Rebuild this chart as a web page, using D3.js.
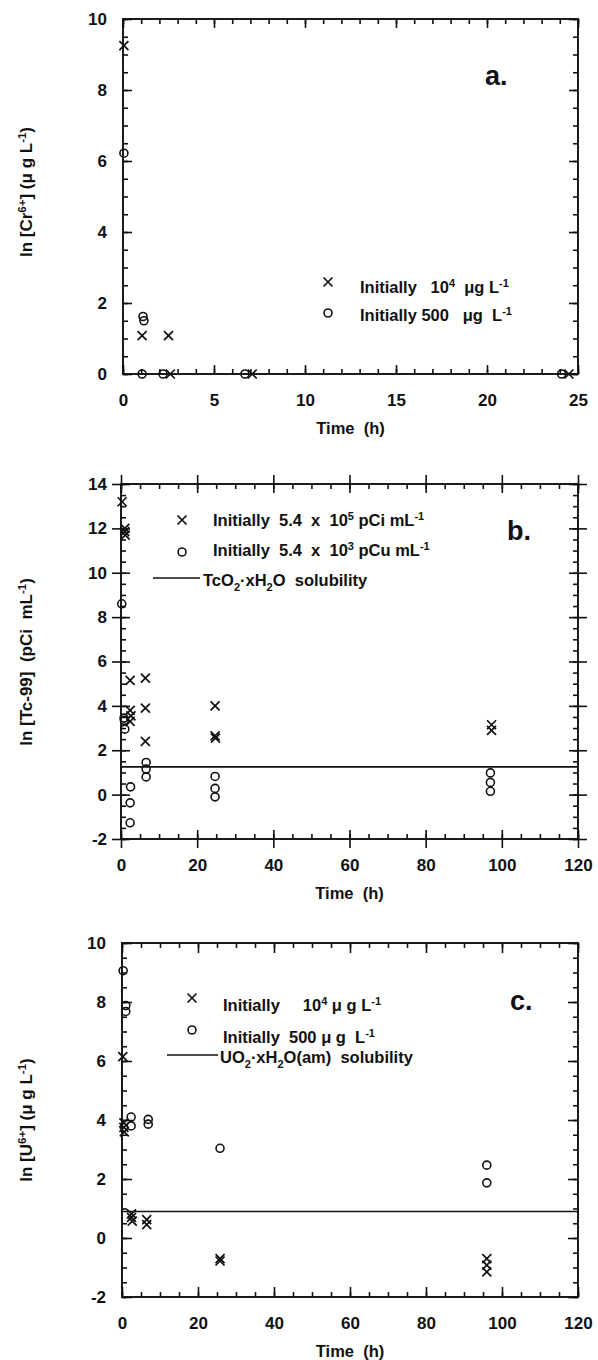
<!DOCTYPE html>
<html>
<head>
<meta charset="utf-8">
<script src="https://cdn.jsdelivr.net/npm/d3@7"></script>
<style>
body { margin: 0; background: #fff; }
text { font-family: "Liberation Sans", Arial, sans-serif; font-weight: bold; fill: #111; white-space: pre; }
</style>
</head>
<body>
<svg id="svg" width="598" height="1360"></svg>
<script>
// ---- panel a : Cr(VI) ----
var crTicksX = [0, 5, 10, 15, 20, 25];
var crTicksY = [0, 2, 4, 6, 8, 10];
var crTimeHigh = [0.05, 1.05, 2.5, 2.6, 7.1, 24.5];
var crLnHigh = [9.25, 1.08, 1.08, 0, 0, 0];
var crTimeLow = [0.05, 1.1, 1.15, 1.05, 2.2, 6.7, 24.1];
var crLnLow = [6.22, 1.62, 1.5, 0, 0, 0, 0];
var crLegend = ["Initially   10^{4}  μg L^{-1}", "Initially 500   μg  L^{-1}"];
var crYTitle = "ln [Cr^{6+}] (μ g L^{-1})";

// ---- panel b : Tc-99 ----
var tcTicksX = [0, 20, 40, 60, 80, 100, 120];
var tcTicksY = [-2, 0, 2, 4, 6, 8, 10, 12, 14];
var tcTimeHigh = [0.3, 1.0, 1.0, 1.1, 2.4, 2.4, 2.6, 2.4, 6.4, 6.4, 6.4, 24.7, 24.7, 24.8, 97.3, 97.3];
var tcLnHigh = [13.2, 12.0, 11.85, 11.7, 5.15, 3.8, 3.55, 3.3, 5.25, 3.9, 2.4, 4.0, 2.65, 2.55, 3.15, 2.9];
var tcTimeLow = [0.2, 0.8, 0.9, 1.0, 2.5, 2.4, 2.4, 6.6, 6.6, 6.6, 24.7, 24.7, 24.7, 97, 97, 97];
var tcLnLow = [8.6, 3.45, 3.35, 2.95, 0.35, -0.37, -1.27, 1.45, 1.15, 0.8, 0.82, 0.28, -0.1, 0.98, 0.55, 0.15];
var tcSolubility = 1.25;
var tcLegend = ["Initially  5.4  x  10^{5} pCi mL^{-1}", "Initially  5.4  x  10^{3} pCu mL^{-1}", "TcO_{2}·xH_{2}O  solubility"];
var tcYTitle = "ln [Tc-99]  (pCi  mL^{-1})";

// ---- panel c : U(VI) ----
var uTicksX = [0, 20, 40, 60, 80, 100, 120];
var uTicksY = [-2, 0, 2, 4, 6, 8, 10];
var uTimeHigh = [0.2, 0.5, 0.5, 0.6, 2.5, 2.5, 2.7, 6.5, 6.5, 25.8, 25.8, 96, 96, 96];
var uLnHigh = [6.15, 3.9, 3.75, 3.6, 0.82, 0.7, 0.57, 0.62, 0.45, -0.7, -0.78, -0.7, -0.92, -1.15];
var uTimeLow = [0.3, 1.0, 1.0, 2.4, 2.4, 6.9, 6.9, 25.8, 96, 96];
var uLnLow = [9.06, 7.88, 7.68, 4.1, 3.8, 4.02, 3.86, 3.04, 2.47, 1.87];
var uSolubility = 0.9;
var uLegend = ["Initially     10^{4} μ g L^{-1}", "Initially  500 μ g  L^{-1}", "UO_{2}·xH_{2}O(am)  solubility"];
var uYTitle = "ln [U^{6+}] (μ g L^{-1})";

var xTitle = "Time  (h)";

var svg = d3.select("#svg");
var crossPath = "M-4.5,-4.5L4.5,4.5M-4.5,4.5L4.5,-4.5";

// text with ^{sup} and _{sub}
function richText(sel, str, small) {
	var parts = str.split(/(\^\{[^}]*\}|_\{[^}]*\})/);
	var shift = 0;
	parts.forEach(function(p) {
		if (p === "") return;
		var t = sel.append("tspan");
		var d = 0;
		if (p.indexOf("^{") === 0) { d = -6; p = p.slice(2, -1); t.style("font-size", small + "px"); }
		else if (p.indexOf("_{") === 0) { d = 5; p = p.slice(2, -1); t.style("font-size", small + "px"); }
		t.attr("dy", d - shift).text(p);
		shift = d;
	});
}

function fmt(d) { return String(d); }

function panel(o) {
	var x = d3.scaleLinear().domain(o.xDom).range([o.left, o.right]);
	var y = d3.scaleLinear().domain(o.yDom).range([o.bottom, o.top]);
	var g = svg.append("g");
	var minX = d3.range(o.xDom[0], o.xDom[1] + 1e-9, o.xMinor);
	var minY = d3.range(o.yDom[0], o.yDom[1] + 1e-9, o.yMinor);

	// axes: labelled + minor + opposite sides
	var axes = [];
	axes.push(g.append("g").attr("transform", "translate(0," + o.bottom + ")")
		.call(d3.axisBottom(x).tickValues(o.ticksX).tickSize(-o.major).tickSizeOuter(0).tickPadding(o.padX).tickFormat(fmt)));
	axes.push(g.append("g").attr("transform", "translate(0," + o.bottom + ")")
		.call(d3.axisBottom(x).tickValues(minX).tickSize(-o.minor).tickSizeOuter(0).tickFormat("")));
	axes.push(g.append("g").attr("transform", "translate(0," + o.top + ")")
		.call(d3.axisTop(x).tickValues(o.ticksX).tickSize(-o.major).tickSizeOuter(0).tickFormat("")));
	axes.push(g.append("g").attr("transform", "translate(0," + o.top + ")")
		.call(d3.axisTop(x).tickValues(minX).tickSize(-o.minor).tickSizeOuter(0).tickFormat("")));
	axes.push(g.append("g").attr("transform", "translate(" + o.left + ",0)")
		.call(d3.axisLeft(y).tickValues(o.ticksY).tickSize(-o.major).tickSizeOuter(0).tickPadding(o.padY).tickFormat(fmt)));
	axes.push(g.append("g").attr("transform", "translate(" + o.left + ",0)")
		.call(d3.axisLeft(y).tickValues(minY).tickSize(-o.minor).tickSizeOuter(0).tickFormat("")));
	axes.push(g.append("g").attr("transform", "translate(" + o.right + ",0)")
		.call(d3.axisRight(y).tickValues(o.ticksY).tickSize(-o.major).tickSizeOuter(0).tickFormat("")));
	axes.push(g.append("g").attr("transform", "translate(" + o.right + ",0)")
		.call(d3.axisRight(y).tickValues(minY).tickSize(-o.minor).tickSizeOuter(0).tickFormat("")));
	if (o.cross) {
		// major ticks cross the frame in panel b
		axes.push(g.append("g").attr("transform", "translate(0," + o.bottom + ")")
			.call(d3.axisBottom(x).tickValues(o.ticksX).tickSize(o.major).tickSizeOuter(0).tickFormat("")));
		axes.push(g.append("g").attr("transform", "translate(0," + o.top + ")")
			.call(d3.axisTop(x).tickValues(o.ticksX).tickSize(o.major).tickSizeOuter(0).tickFormat("")));
		axes.push(g.append("g").attr("transform", "translate(" + o.left + ",0)")
			.call(d3.axisLeft(y).tickValues(o.ticksY).tickSize(o.major).tickSizeOuter(0).tickFormat("")));
		axes.push(g.append("g").attr("transform", "translate(" + o.right + ",0)")
			.call(d3.axisRight(y).tickValues(o.ticksY).tickSize(o.major).tickSizeOuter(0).tickFormat("")));
	}
	axes.forEach(function(a) {
		a.select(".domain").remove();
		a.selectAll("line").attr("stroke", "#111").attr("stroke-width", 1.6);
		a.selectAll("text").attr("font-size", 17).attr("fill", "#111");
	});

	// frame
	g.append("rect")
		.attr("x", o.left).attr("y", o.top)
		.attr("width", o.right - o.left).attr("height", o.bottom - o.top)
		.attr("fill", "none").attr("stroke", "#111").attr("stroke-width", 1.9);

	// solubility line
	if (o.solub !== undefined) {
		g.append("line")
			.attr("x1", x(o.xDom[0])).attr("x2", x(o.xDom[1]))
			.attr("y1", y(o.solub)).attr("y2", y(o.solub))
			.attr("stroke", "#111").attr("stroke-width", 1.6);
	}

	// points
	g.selectAll(".lo").data(d3.range(o.tLow.length)).enter().append("circle")
		.attr("cx", function(i) { return x(o.tLow[i]); })
		.attr("cy", function(i) { return y(o.vLow[i]); })
		.attr("r", 4).attr("fill", "none").attr("stroke", "#111").attr("stroke-width", 1.6);
	g.selectAll(".hi").data(d3.range(o.tHigh.length)).enter().append("path")
		.attr("d", crossPath)
		.attr("transform", function(i) { return "translate(" + x(o.tHigh[i]) + "," + y(o.vHigh[i]) + ")"; })
		.attr("fill", "none").attr("stroke", "#111").attr("stroke-width", 1.7);

	// axis titles
	g.append("text")
		.attr("x", (o.left + o.right) / 2).attr("y", o.bottom + 60)
		.attr("text-anchor", "middle").attr("font-size", 16.5)
		.text(xTitle);
	var yt = g.append("text")
		.attr("transform", "translate(32," + o.yTitleMid + ") rotate(-90)")
		.attr("text-anchor", "middle").attr("font-size", 17);
	richText(yt, o.yTitle, 11.5);

	// panel letter
	g.append("text").attr("x", o.letterX).attr("y", o.letterY)
		.attr("font-size", 27).text(o.letter);

	// legend
	var lg = o.leg;
	g.append("path").attr("d", crossPath)
		.attr("transform", "translate(" + lg.mx + "," + lg.my[0] + ")")
		.attr("fill", "none").attr("stroke", "#111").attr("stroke-width", 1.7);
	g.append("circle").attr("cx", lg.mx).attr("cy", lg.my[1]).attr("r", 4)
		.attr("fill", "none").attr("stroke", "#111").attr("stroke-width", 1.6);
	for (var k = 0; k < o.legText.length; k++) {
		var tx = g.append("text").attr("x", lg.tx[k]).attr("y", lg.ty[k]).attr("font-size", 16.5);
		richText(tx, o.legText[k], 11);
	}
	if (lg.line) {
		g.append("line").attr("x1", lg.line[0]).attr("x2", lg.line[1])
			.attr("y1", lg.line[2]).attr("y2", lg.line[2])
			.attr("stroke", "#111").attr("stroke-width", 1.6);
	}
}

panel({
	left: 123, right: 578, top: 19, bottom: 374,
	xDom: [0, 25], yDom: [0, 10], xMinor: 1, yMinor: 0.5,
	ticksX: crTicksX, ticksY: crTicksY, major: 9, minor: 5, padX: 20, padY: 16, cross: false,
	tHigh: crTimeHigh, vHigh: crLnHigh, tLow: crTimeLow, vLow: crLnLow,
	yTitle: crYTitle, yTitleMid: 192,
	letter: "a.", letterX: 485, letterY: 85,
	legText: crLegend,
	leg: { mx: 328, my: [282, 313], tx: [360, 360], ty: [293, 321] }
});

panel({
	left: 121, right: 578, top: 484, bottom: 839,
	xDom: [0, 120], yDom: [-2, 14], xMinor: 5, yMinor: 0.5,
	ticksX: tcTicksX, ticksY: tcTicksY, major: 9, minor: 5, padX: 20, padY: 14, cross: true,
	tHigh: tcTimeHigh, vHigh: tcLnHigh, tLow: tcTimeLow, vLow: tcLnLow, solub: tcSolubility,
	yTitle: tcYTitle, yTitleMid: 662,
	letter: "b.", letterX: 507, letterY: 540,
	legText: tcLegend,
	leg: { mx: 182, my: [520, 552], tx: [213, 213, 203], ty: [526, 556, 586], line: [153, 200, 578] }
});

panel({
	left: 122, right: 578, top: 943, bottom: 1297,
	xDom: [0, 120], yDom: [-2, 10], xMinor: 5, yMinor: 0.5,
	ticksX: uTicksX, ticksY: uTicksY, major: 10, minor: 5, padX: 20, padY: 16, cross: false,
	tHigh: uTimeHigh, vHigh: uLnHigh, tLow: uTimeLow, vLow: uLnLow, solub: uSolubility,
	yTitle: uYTitle, yTitleMid: 1120,
	letter: "c.", letterX: 510, letterY: 1010,
	legText: uLegend,
	leg: { mx: 192, my: [998, 1030], tx: [223, 223, 220], ty: [1011, 1043, 1063], line: [167, 218, 1055] }
});
</script>
</body>
</html>
